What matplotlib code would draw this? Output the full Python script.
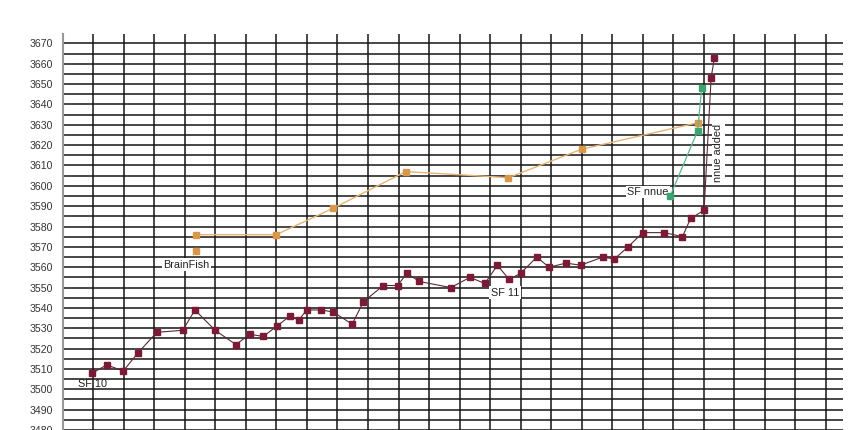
"""
Stockfish Elo progression chart (SF 10 -> SF 11 -> SF nnue) with BrainFish.
"""
import numpy as np
import matplotlib
matplotlib.use('Agg')
import matplotlib.pyplot as plt

plt.rcParams['font.family'] = ['Liberation Sans', 'DejaVu Sans']

# x is an arbitrary time index (one unit per vertical grid line)
SF_X = [0.97, 1.44, 1.98, 2.47, 3.08, 3.93, 4.33, 4.99, 5.67, 6.13, 6.57,
        7.01, 7.44, 7.73, 7.99, 8.46, 8.86, 9.48, 9.85, 10.50, 10.97, 11.27,
        11.68, 12.71, 13.34, 13.83, 14.24, 14.62, 15.00, 15.53, 15.93, 16.48,
        16.97, 17.69, 18.07, 18.52, 19.00, 19.71, 20.30, 20.57, 21.01, 21.24,
        21.35]
SF_Y = [3508, 3512, 3509, 3518, 3528, 3529, 3539, 3529, 3522, 3527, 3526,
        3531, 3536, 3534, 3539, 3539, 3538, 3532, 3543, 3551, 3551, 3557,
        3553, 3550, 3555, 3552, 3561, 3554, 3557, 3565, 3560, 3562,
        3561, 3565, 3564, 3570, 3577, 3577, 3575, 3584, 3588, 3653,
        3663]

BF_X = [4.35, 6.99, 8.86, 11.24, 14.60, 17.00, 20.80]
BF_Y = [3576, 3576, 3589, 3607, 3604, 3618, 3631]
BF_EXTRA_X = [4.35]
BF_EXTRA_Y = [3568]

NNUE_X = [19.90, 20.80, 20.93]
NNUE_Y = [3595, 3627, 3648]

LABELS = [
    ("SF 10", 0.96, 3502.5, 0, False),
    ("BrainFish", 4.06, 3561.2, 0, True),
    ("SF 11", 14.49, 3547.5, 0, True),
    ("SF nnue", 19.17, 3597, 0, True),
    ("nnue added", 21.48, 3616, 90, True),
]

fig = plt.figure(figsize=(8.66, 4.30), dpi=100)
ax = fig.add_axes([0.0725, 0.0, 0.9009, 0.9209])

ax.set_xlim(0, 25.56)
ax.set_ylim(3480, 3674.6)

# grid drawn by hand: horizontal every 5, vertical every unit
for v in np.arange(3480, 3675, 5):
    ax.axhline(v, color='#151515', lw=1.1, zorder=1)
for u in range(1, 26):
    ax.axvline(u, color='#151515', lw=1.1, zorder=1)

ax.plot(SF_X, SF_Y, color='#5a2a35', lw=0.8, zorder=3,
        marker='s', markersize=4, markerfacecolor='#7a1a35',
        markeredgecolor='#7a1a35')
ax.plot(BF_X, BF_Y, color='#e6b474', lw=1.0, zorder=3,
        marker='s', markersize=4, markerfacecolor='#d9974a',
        markeredgecolor='#d9974a')
ax.plot(BF_EXTRA_X, BF_EXTRA_Y, ls='none', zorder=3,
        marker='s', markersize=4, markerfacecolor='#d9974a',
        markeredgecolor='#d9974a')
ax.plot(NNUE_X, NNUE_Y, color='#5fb68a', lw=0.9, zorder=3,
        marker='s', markersize=4, markerfacecolor='#3aa56e',
        markeredgecolor='#3aa56e')

for txt, x, y, rot, boxed in LABELS:
    kw = {}
    if boxed:
        kw['bbox'] = dict(facecolor='white', edgecolor='none', pad=1.0)
    ax.text(x, y, txt, rotation=rot, ha='center', va='center',
            fontsize=7.8, color='#222222', zorder=2, **kw)

ax.set_yticks(np.arange(3480, 3671, 10))
ax.set_xticks([])
ax.tick_params(axis='y', length=0, pad=7, labelsize=7.6,
               labelcolor='#333333')
for side in ['top', 'right', 'bottom']:
    ax.spines[side].set_visible(False)
ax.spines['left'].set_color('#999999')
ax.spines['left'].set_linewidth(1.5)
ax.spines['left'].set_zorder(5)

fig.savefig('out.png', dpi=100)
